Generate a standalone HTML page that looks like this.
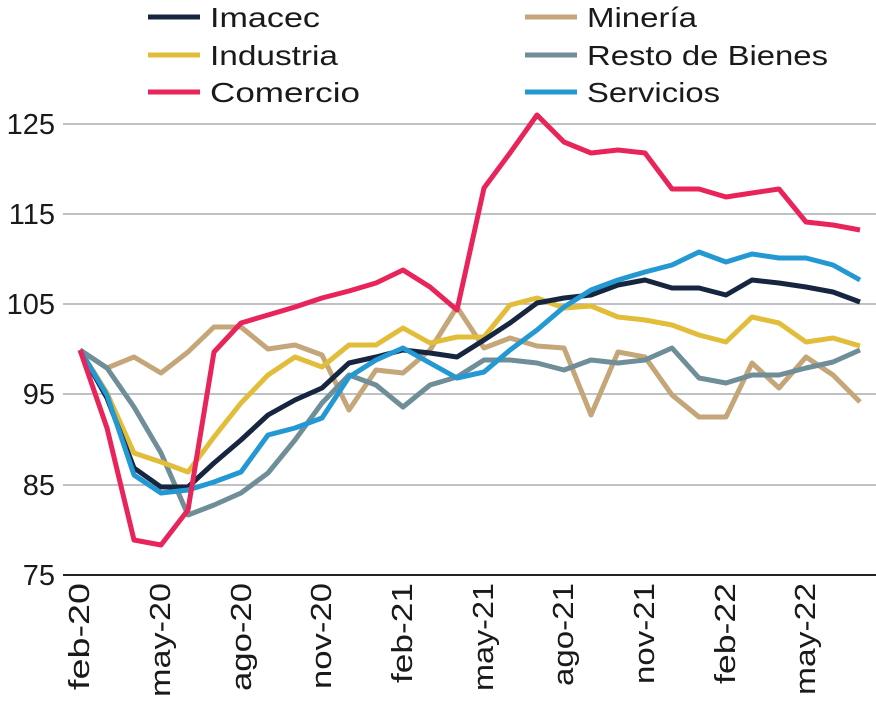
<!DOCTYPE html>
<html><head><meta charset="utf-8"><style>body{margin:0;background:#fff}svg{display:block}</style></head><body>
<svg width="876" height="704" xmlns="http://www.w3.org/2000/svg" font-family="Liberation Sans, sans-serif">
<g stroke="#a9aeb3" stroke-width="1.5">
<line x1="63" x2="876" y1="124" y2="124"/><line x1="63" x2="876" y1="214" y2="214"/><line x1="63" x2="876" y1="304" y2="304"/><line x1="63" x2="876" y1="394" y2="394"/><line x1="63" x2="876" y1="485" y2="485"/>
</g>
<line x1="63" x2="876" y1="575" y2="575" stroke="#222" stroke-width="2"/>
<g font-size="29" fill="#1a1a1a" text-anchor="end">
<text x="55" y="134">125</text><text x="55" y="224">115</text><text x="55" y="314">105</text><text x="55" y="404">95</text><text x="55" y="495">85</text><text x="55" y="585">75</text>
</g>
<g font-size="29" fill="#1a1a1a" text-anchor="end">
<text transform="translate(89,583) rotate(-90)" lengthAdjust="spacingAndGlyphs" textLength="107">feb-20</text>
<text transform="translate(170,583) rotate(-90)" lengthAdjust="spacingAndGlyphs" textLength="114">may-20</text>
<text transform="translate(251,583) rotate(-90)" lengthAdjust="spacingAndGlyphs" textLength="108">ago-20</text>
<text transform="translate(331,583) rotate(-90)" lengthAdjust="spacingAndGlyphs" textLength="106">nov-20</text>
<text transform="translate(412,583) rotate(-90)" lengthAdjust="spacingAndGlyphs" textLength="100">feb-21</text>
<text transform="translate(493,583) rotate(-90)" lengthAdjust="spacingAndGlyphs" textLength="108">may-21</text>
<text transform="translate(573,583) rotate(-90)" lengthAdjust="spacingAndGlyphs" textLength="103">ago-21</text>
<text transform="translate(654,583) rotate(-90)" lengthAdjust="spacingAndGlyphs" textLength="101">nov-21</text>
<text transform="translate(735,583) rotate(-90)" lengthAdjust="spacingAndGlyphs" textLength="101">feb-22</text>
<text transform="translate(815,583) rotate(-90)" lengthAdjust="spacingAndGlyphs" textLength="112">may-22</text>
</g>
<g fill="none" stroke-width="5" stroke-linejoin="round">
<polyline stroke="#c4a678" points="80,350 107,368 134,357 161,373 188,352 214,327 241,327 268,349 295,345 322,355 349,410 376,370 403,373 430,350 457,307 484,348 510,338 537,346 564,348 591,415 618,352 645,357 672,395 699,417 726,417 752,363 779,388 806,357 833,375 860,402"/>
<polyline stroke="#6f8e97" points="80,350 107,368 134,407 161,453 188,515 214,505 241,493 268,473 295,440 322,403 349,375 376,385 403,407 430,385 457,377 484,360 510,360 537,363 564,370 591,360 618,363 645,360 672,348 699,378 726,383 752,375 779,375 806,368 833,362 860,350"/>
<polyline stroke="#e2bd3a" points="80,350 107,393 134,453 161,462 188,472 214,437 241,403 268,375 295,357 322,367 349,345 376,345 403,328 430,343 457,337 484,337 510,305 537,298 564,308 591,306 618,317 645,320 672,325 699,335 726,342 752,317 779,323 806,342 833,338 860,346"/>
<polyline stroke="#172640" points="80,350 107,398 134,468 161,487 188,487 214,463 241,440 268,415 295,400 322,388 349,363 376,357 403,350 430,353 457,357 484,340 510,323 537,303 564,298 591,295 618,285 645,280 672,288 699,288 726,295 752,280 779,283 806,287 833,292 860,302"/>
<polyline stroke="#2398d3" points="80,350 107,395 134,475 161,493 188,490 214,482 241,472 268,435 295,428 322,418 349,377 376,360 403,348 430,363 457,378 484,372 510,350 537,330 564,307 591,290 618,280 645,272 672,265 699,252 726,262 752,254 779,258 806,258 833,265 860,280"/>
<polyline stroke="#e8245a" points="80,350 107,428 134,540 161,545 188,510 214,352 241,323 268,315 295,307 322,298 349,291 376,283 403,270 430,287 457,310 484,188 510,153 537,115 564,142 591,153 618,150 645,153 672,189 699,189 726,197 752,193 779,189 806,222 833,225 860,230"/>
</g>
<g stroke-width="5">
<line x1="148" x2="200" y1="17" y2="17" stroke="#172640"/>
<line x1="148" x2="200" y1="55" y2="55" stroke="#e2bd3a"/>
<line x1="148" x2="200" y1="92" y2="92" stroke="#e8245a"/>
<line x1="525" x2="577" y1="17" y2="17" stroke="#c4a678"/>
<line x1="525" x2="577" y1="55" y2="55" stroke="#6f8e97"/>
<line x1="525" x2="577" y1="92" y2="92" stroke="#2398d3"/>
</g>
<g font-size="28" fill="#1a1a1a">
<text x="210" y="27" lengthAdjust="spacingAndGlyphs" textLength="110">Imacec</text><text x="210" y="65" lengthAdjust="spacingAndGlyphs" textLength="128">Industria</text><text x="210" y="102" lengthAdjust="spacingAndGlyphs" textLength="150">Comercio</text>
<text x="587" y="27" lengthAdjust="spacingAndGlyphs" textLength="110">Minería</text><text x="587" y="65" lengthAdjust="spacingAndGlyphs" textLength="241">Resto de Bienes</text><text x="587" y="102" lengthAdjust="spacingAndGlyphs" textLength="133">Servicios</text>
</g>
</svg>
</body></html>
